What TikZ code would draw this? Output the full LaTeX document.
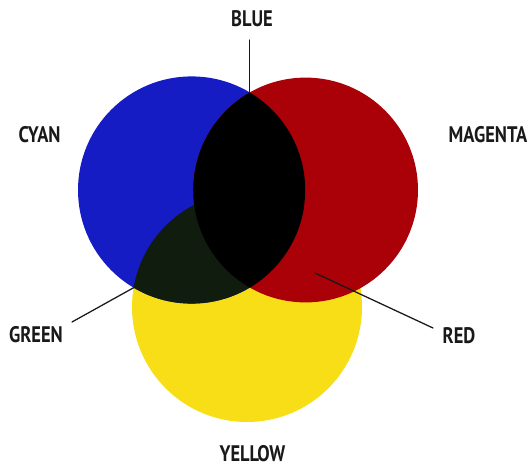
\documentclass[tikz,border=0pt]{standalone}
\usepackage{fontspec}
\newfontfamily\labelfont[FakeStretch=0.82]{PT Sans}
\usepackage{tikz}
\usetikzlibrary{calc}

\definecolor{ciano}{RGB}{22,28,196}
\definecolor{magenta2}{RGB}{170,0,8}
\definecolor{giallo}{RGB}{247,222,22}
\definecolor{verde}{RGB}{16,28,14}
\definecolor{testo}{RGB}{25,25,25}

\begin{document}
\begin{tikzpicture}[line cap=round, line join=round,
  etichetta/.style={text=testo, inner sep=0pt, font=\labelfont\bfseries\fontsize{16}{16}\selectfont},
  richiamo/.style={line width=0.9pt, testo}]

\useasboundingbox (0,0) rectangle (13.3,11.65);

% centri e raggi
\coordinate (Cb) at (4.79,6.90);
\coordinate (Cr) at (7.64,6.90);
\coordinate (Cy) at (6.175,3.975);
\pgfmathsetmacro{\Rb}{2.84}
\pgfmathsetmacro{\Rr}{2.81}
\pgfmathsetmacro{\Ry}{2.875}

% cerchi pieni
\fill[giallo] (Cy) circle (\Ry);
\fill[ciano] (Cb) circle (\Rb);
\fill[magenta2] (Cr) circle (\Rr);

% --- sovrapposizioni ---
\begin{scope}
  \clip (Cb) circle (\Rb);
  \fill[verde] (Cy) circle (\Ry);
  \fill[black] (Cr) circle (\Rr);
\end{scope}

% punti di intersezione
\coordinate (top) at (6.245,9.339);
\coordinate (sx) at (3.34,4.457);
\coordinate (rosso) at (7.875,4.825);

% etichette
\node[etichetta] (blue) at (6.3,11.175) {BLUE};
\node[etichetta] (cyan) at (0.99,8.29) {CYAN};
\node[etichetta] (magenta) at (12.2,8.29) {MAGENTA};
\node[etichetta] (green) at (0.9,3.275) {GREEN};
\node[etichetta] (red) at (11.475,3.26) {RED};
\node[etichetta] (yellow) at (6.31,0.3) {YELLOW};

% linee di richiamo
\coordinate (bluefine) at ($(top)+(0,1.31)$);
\coordinate (greenfine) at (1.8,3.6);
\coordinate (redfine) at (10.825,3.45);
\draw[richiamo] (bluefine) -- (top);
\draw[richiamo] (greenfine) -- (sx);
\draw[richiamo] (redfine) -- (rosso);
\end{tikzpicture}
\end{document}
